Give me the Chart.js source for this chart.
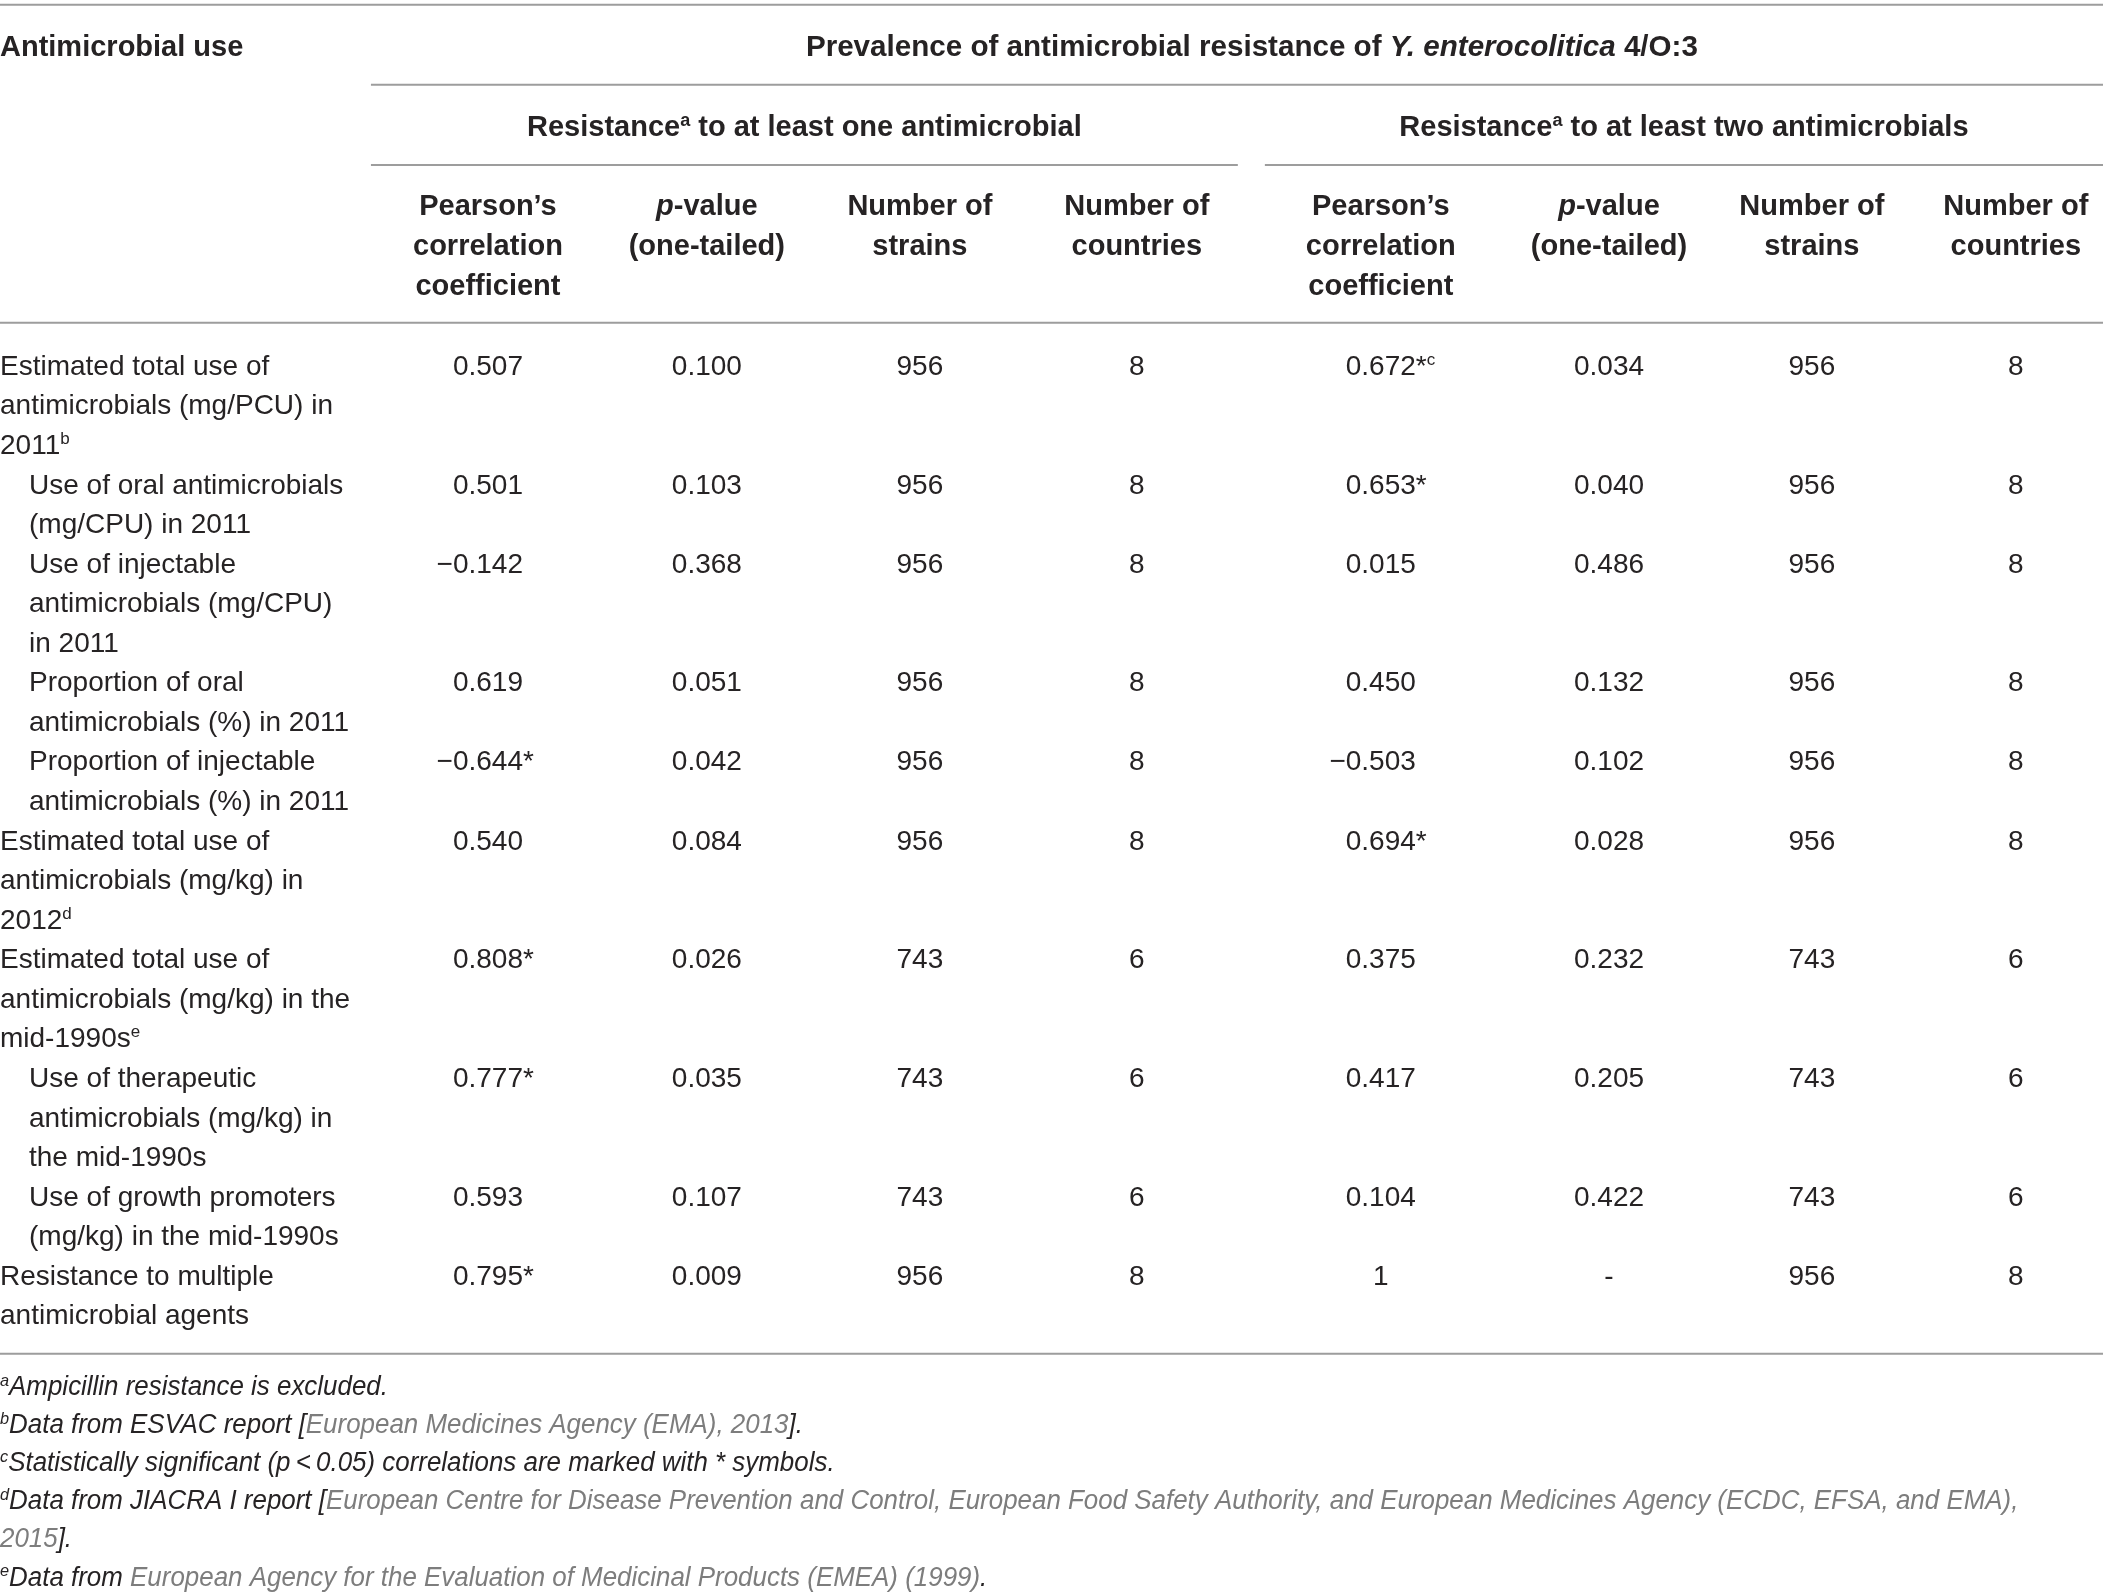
<!DOCTYPE html>
<html>
<head>
<meta charset="utf-8">
<script src="https://cdn.jsdelivr.net/npm/chart.js@4.4.1/dist/chart.umd.min.js"></script>
<style>
  html, body { margin: 0; padding: 0; background: #fff; overflow: hidden; }
  canvas { display: block; }
</style>
</head>
<body>
<canvas id="tabela" width="2103" height="1594"></canvas>
<script>
// linhas da tabela (uso de antimicrobianos), quebradas como no original
var useLabels = [
    ['Estimated total use of', 'antimicrobials (mg/PCU) in', '2011<sup>b</sup>'],
    ['Use of oral antimicrobials', '(mg/CPU) in 2011'],
    ['Use of injectable', 'antimicrobials (mg/CPU)', 'in 2011'],
    ['Proportion of oral', 'antimicrobials (%) in 2011'],
    ['Proportion of injectable', 'antimicrobials (%) in 2011'],
    ['Estimated total use of', 'antimicrobials (mg/kg) in', '2012<sup>d</sup>'],
    ['Estimated total use of', 'antimicrobials (mg/kg) in the', 'mid-1990s<sup>e</sup>'],
    ['Use of therapeutic', 'antimicrobials (mg/kg) in', 'the mid-1990s'],
    ['Use of growth promoters', '(mg/kg) in the mid-1990s'],
    ['Resistance to multiple', 'antimicrobial agents']
];
var useIndent = [0, 1, 1, 1, 1, 0, 0, 1, 1, 0];

// resistencia a pelo menos um antimicrobiano
var pearsonOne = [0.507, 0.501, -0.142, 0.619, -0.644, 0.540, 0.808, 0.777, 0.593, 0.795];
var pValueOne = [0.100, 0.103, 0.368, 0.051, 0.042, 0.084, 0.026, 0.035, 0.107, 0.009];
// resistencia a pelo menos dois antimicrobianos
var pearsonTwo = [0.672, 0.653, 0.015, 0.450, -0.503, 0.694, 0.375, 0.417, 0.104, 1];
var pValueTwo = [0.034, 0.040, 0.486, 0.132, 0.102, 0.028, 0.232, 0.205, 0.422, null];
var strains = [956, 956, 956, 956, 956, 956, 743, 743, 743, 956];
var countries = [8, 8, 8, 8, 8, 8, 6, 6, 6, 8];

var stubTitle = 'Antimicrobial use';
var mainTitle = 'Prevalence of antimicrobial resistance of <i>Y. enterocolitica</i> 4/O:3';
var groupTitles = [
    'Resistance<sup>a</sup> to at least one antimicrobial',
    'Resistance<sup>a</sup> to at least two antimicrobials'
];
var colHeads = [
    ['Pearson\u2019s', 'correlation', 'coefficient'],
    ['<i>p</i>-value', '(one-tailed)'],
    ['Number of', 'strains'],
    ['Number of', 'countries']
];
var footnotes = [
    '<sup>a</sup>Ampicillin resistance is excluded.',
    '<sup>b</sup>Data from ESVAC report [<g>European Medicines Agency (EMA), 2013</g>].',
    '<sup>c</sup>Statistically significant (p\u2009<\u20090.05) correlations are marked with * symbols.',
    '<sup>d</sup>Data from JIACRA I report [<g>European Centre for Disease Prevention and Control, European Food Safety Authority, and European Medicines Agency (ECDC, EFSA, and EMA),</g>',
    '<g>2015</g>].',
    '<sup>e</sup>Data from <g>European Agency for the Evaluation of Medicinal Products (EMEA) (1999)</g>.'
];

// layout
var FONT = '"Liberation Sans", Arial, Helvetica, sans-serif';
var INK = '#262324';
var LINK = '#7d7d7d';
var RULE = '#9d9d9d';
var bodyStyle = {size: 28, sx: 1};
var headStyle = {size: 29, sx: 1, bold: true};
var titleStyle = {size: 29.6, sx: 1, bold: true};
var footStyle = {size: 27, sx: 0.96, italic: true};

var X_MIN = -2.256, X_MAX = 7.467;
var Y_MIN = -9.22, Y_MAX = 31.07;
var stubEdge = -0.541, groupOneEnd = 3.467, groupTwoStart = 3.592;
var indentStep = 0.134;
var colSlots = [0, 1.012, 1.997, 3.0, 4.128, 5.183, 6.121, 7.064];
var colX = function (i) { return colSlots[i]; };

// linha inicial de cada linha da tabela
var rowStart = [];
useLabels.reduce(function (acc, l) { rowStart.push(acc); return acc + l.length; }, 0);
var tableEnd = rowStart[rowStart.length - 1] + useLabels[useLabels.length - 1].length;

var fmtPearson = function (pv) {
    return function (v, i) {
        var core = Math.abs(v) === 1 ? '1' : Math.abs(v).toFixed(3);
        var suf = pv[i] !== null && pv[i] < 0.05 ? '*' : '';
        return {pre: v < 0 ? '\u2212' : '', core: core, suf: suf};
    };
};
var fmtP = function (v) { return {pre: '', core: v === null ? '-' : v.toFixed(3), suf: ''}; };
var fmtInt = function (v) { return {pre: '', core: String(v), suf: ''}; };

var columns = [
    {values: pearsonOne, fmt: fmtPearson(pValueOne)},
    {values: pValueOne, fmt: fmtP},
    {values: strains, fmt: fmtInt},
    {values: countries, fmt: fmtInt},
    {values: pearsonTwo, fmt: fmtPearson(pValueTwo)},
    {values: pValueTwo, fmt: fmtP},
    {values: strains, fmt: fmtInt},
    {values: countries, fmt: fmtInt}
];

var ruleSet = function (y, a, b) {
    return {
        type: 'scatter', showLine: true, clip: false,
        data: [{x: a, y: y}, {x: b, y: y}],
        borderColor: RULE, borderWidth: 2, pointRadius: 0, pointHoverRadius: 0
    };
};

var datasets = [
    ruleSet(-9.1, X_MIN, X_MAX),
    ruleSet(-7.08, stubEdge, X_MAX),
    ruleSet(-5.05, stubEdge, groupOneEnd),
    ruleSet(-5.05, groupTwoStart, X_MAX),
    ruleSet(-1.06, X_MIN, X_MAX),
    ruleSet(tableEnd, X_MIN, X_MAX)
];

// coluna de rotulos: um ponto por linha de texto
var stubPoints = [], stubTexts = [];
useLabels.forEach(function (lines, r) {
    lines.forEach(function (t, k) {
        stubPoints.push({x: X_MIN + useIndent[r] * indentStep, y: rowStart[r] + k});
        stubTexts.push(t);
    });
});
datasets.push({type: 'scatter', data: stubPoints, pointRadius: 0, texts: stubTexts, kind: 'stub'});

columns.forEach(function (c, ci) {
    datasets.push({
        type: 'scatter',
        data: c.values.map(function (v, r) { return {x: colX(ci), y: rowStart[r]}; }),
        pointRadius: 0,
        cells: c.values.map(function (v, r) { return c.fmt(v, r); }),
        kind: 'cell'
    });
});
// marca de rodape "c" no primeiro coeficiente do segundo grupo
datasets[datasets.length - 4].cells[0].mark = 'c';

// texto rico: <b>, <i>, <sup>, <g>
function parseRich(str) {
    var out = [], st = {b: 0, i: 0, sup: 0, g: 0};
    str.split(/(<\/?(?:b|i|sup|g)>)/).forEach(function (tok) {
        var m = tok.match(/^<(\/?)(b|i|sup|g)>$/);
        if (m) { st[m[2]] += m[1] ? -1 : 1; return; }
        if (tok) out.push({t: tok, b: st.b > 0, i: st.i > 0, sup: st.sup > 0, g: st.g > 0});
    });
    return out;
}
function segFont(seg, s) {
    var size = seg.sup ? Math.round(s.size * 0.62) : s.size;
    return ((seg.i || s.italic) ? 'italic ' : '') + ((seg.b || s.bold) ? 'bold ' : '') + size + 'px ' + FONT;
}
function richWidth(ctx, str, s) {
    var w = 0;
    parseRich(str).forEach(function (seg) { ctx.font = segFont(seg, s); w += ctx.measureText(seg.t).width; });
    return w * s.sx;
}
function drawRich(ctx, str, x, y, align, s) {
    var w = richWidth(ctx, str, s);
    var x0 = align === 'center' ? x - w / 2 : align === 'right' ? x - w : x;
    var base = y + s.size * 0.36;
    ctx.save();
    ctx.translate(x0, base);
    ctx.scale(s.sx, 1);
    ctx.textBaseline = 'alphabetic';
    ctx.textAlign = 'left';
    var cx = 0;
    parseRich(str).forEach(function (seg) {
        ctx.font = segFont(seg, s);
        ctx.fillStyle = seg.g ? LINK : INK;
        ctx.fillText(seg.t, cx, seg.sup ? -s.size * 0.36 : 0);
        cx += ctx.measureText(seg.t).width;
    });
    ctx.restore();
}

var tablePlugin = {
    id: 'tabela',
    afterDatasetsDraw: function (chart) {
        var ctx = chart.ctx, x = chart.scales.x, y = chart.scales.y;

        // cabecalho
        drawRich(ctx, '<b>' + stubTitle + '</b>', x.getPixelForValue(X_MIN), y.getPixelForValue(-8.08), 'left', headStyle);
        drawRich(ctx, mainTitle, x.getPixelForValue((colX(0) + colX(7)) / 2), y.getPixelForValue(-8.08), 'center', titleStyle);
        drawRich(ctx, groupTitles[0], x.getPixelForValue((stubEdge + groupOneEnd) / 2), y.getPixelForValue(-6.04), 'center', headStyle);
        drawRich(ctx, groupTitles[1], x.getPixelForValue((groupTwoStart + X_MAX) / 2), y.getPixelForValue(-6.04), 'center', headStyle);
        for (var ci = 0; ci < 8; ci++) {
            colHeads[ci % 4].forEach(function (t, k) {
                drawRich(ctx, t, x.getPixelForValue(colX(ci)), y.getPixelForValue(-4.04 + k), 'center', headStyle);
            });
        }

        // corpo
        chart.data.datasets.forEach(function (ds, di) {
            if (!ds.kind) return;
            var meta = chart.getDatasetMeta(di);
            meta.data.forEach(function (el, j) {
                if (ds.kind === 'stub') {
                    drawRich(ctx, ds.texts[j], el.x, el.y, 'left', bodyStyle);
                } else {
                    var c = ds.cells[j];
                    drawRich(ctx, c.core, el.x, el.y, 'center', bodyStyle);
                    var half = richWidth(ctx, c.core, bodyStyle) / 2;
                    if (c.pre) drawRich(ctx, c.pre, el.x - half, el.y, 'right', bodyStyle);
                    var tail = c.suf + (c.mark ? '<sup>' + c.mark + '</sup>' : '');
                    if (tail) drawRich(ctx, tail, el.x + half, el.y, 'left', bodyStyle);
                }
            });
        });

        // notas de rodape
        footnotes.forEach(function (t, j) {
            drawRich(ctx, t, x.getPixelForValue(X_MIN), y.getPixelForValue(tableEnd + 0.8 + j * 0.962), 'left', footStyle);
        });
    }
};

var ctx1 = document.getElementById('tabela').getContext('2d');
new Chart(ctx1, {
    type: 'scatter',
    data: {datasets: datasets},
    options: {
        responsive: false,
        devicePixelRatio: 1,
        animation: false,
        events: [],
        layout: {padding: 0},
        plugins: {legend: {display: false}, tooltip: {enabled: false}},
        scales: {
            x: {type: 'linear', min: X_MIN, max: X_MAX, display: false},
            y: {type: 'linear', min: Y_MIN, max: Y_MAX, reverse: true, display: false}
        }
    },
    plugins: [tablePlugin]
});
</script>
</body>
</html>
